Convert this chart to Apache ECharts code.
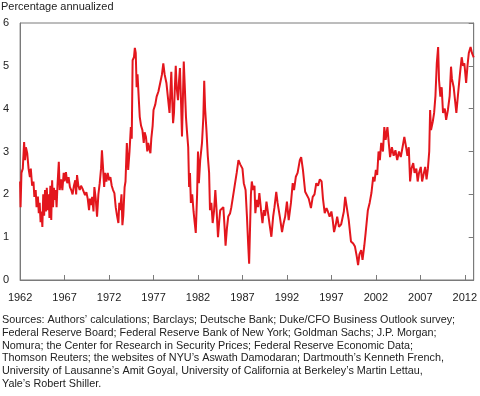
<!DOCTYPE html>
<html>
<head>
<meta charset="utf-8">
<script src="https://cdn.jsdelivr.net/npm/echarts@6/dist/echarts.min.js"></script>
<style>
  html, body { margin: 0; padding: 0; background: #fff; }
  #container { width: 480px; height: 396px; }
</style>
</head>
<body>
<div id="container"></div>
<script>
const startYear = 1962;
const endYear = 2013;
const yTicks = [0, 1, 2, 3, 4, 5, 6];

// [decimal year, percentage annualized]
const premium = [
  [1962.00, 2.3], [1962.05, 1.7], [1962.15, 2.5], [1962.30, 2.6], [1962.45, 3.22], [1962.55, 2.8],
  [1962.65, 3.1], [1962.80, 2.96], [1962.95, 2.6], [1963.10, 2.4], [1963.20, 2.6], [1963.35, 2.2],
  [1963.50, 2.3], [1963.60, 1.94], [1963.75, 2.1], [1963.85, 1.7], [1964.00, 1.95], [1964.10, 1.56],
  [1964.20, 1.8], [1964.30, 1.35], [1964.40, 1.6], [1964.50, 1.24], [1964.60, 2.0], [1964.70, 1.5],
  [1964.80, 2.1], [1964.90, 1.6], [1965.00, 2.15], [1965.10, 1.63], [1965.20, 2.0], [1965.30, 1.45],
  [1965.40, 2.2], [1965.50, 1.4], [1965.60, 2.33], [1965.70, 1.7], [1965.80, 2.15], [1965.90, 1.87],
  [1966.00, 2.1], [1966.10, 1.7], [1966.20, 2.2], [1966.35, 2.76], [1966.45, 2.1], [1966.60, 2.35],
  [1966.75, 2.1], [1966.90, 2.5], [1967.00, 2.3], [1967.15, 2.52], [1967.30, 2.26], [1967.45, 2.4],
  [1967.60, 2.17], [1967.75, 2.1], [1967.90, 2.0], [1968.05, 2.2], [1968.20, 2.33], [1968.30, 2.0],
  [1968.40, 2.45], [1968.55, 2.2], [1968.70, 2.1], [1968.85, 2.2], [1969.00, 2.14], [1969.15, 2.1],
  [1969.30, 1.98], [1969.45, 2.05], [1969.60, 1.9], [1969.75, 1.63], [1969.85, 1.9], [1970.00, 1.75],
  [1970.10, 1.94], [1970.25, 1.6], [1970.35, 2.17], [1970.50, 1.9], [1970.65, 1.48], [1970.80, 2.0],
  [1970.95, 2.26], [1971.10, 2.6], [1971.20, 3.03], [1971.30, 2.7], [1971.45, 2.17], [1971.55, 2.5],
  [1971.70, 2.3], [1971.85, 2.5], [1972.00, 2.33], [1972.15, 2.4], [1972.30, 2.2], [1972.45, 2.1],
  [1972.60, 2.03], [1972.75, 1.7], [1972.90, 1.5], [1973.05, 1.33], [1973.15, 1.8], [1973.25, 1.63],
  [1973.40, 2.0], [1973.50, 1.28], [1973.60, 1.5], [1973.75, 2.17], [1973.85, 2.3], [1974.00, 3.2],
  [1974.15, 2.57], [1974.30, 3.0], [1974.45, 3.57], [1974.55, 3.3], [1974.65, 5.13], [1974.80, 5.2],
  [1974.90, 5.42], [1975.00, 5.3], [1975.10, 4.5], [1975.20, 4.8], [1975.35, 4.2], [1975.45, 3.81],
  [1975.60, 3.6], [1975.75, 3.5], [1975.90, 3.2], [1976.00, 3.45], [1976.15, 3.34], [1976.30, 3.0],
  [1976.40, 3.2], [1976.50, 3.1], [1976.65, 2.96], [1976.75, 3.3], [1976.90, 3.6], [1977.00, 3.97],
  [1977.20, 4.1], [1977.35, 4.28], [1977.55, 4.4], [1977.75, 4.6], [1977.95, 4.8], [1978.10, 5.06],
  [1978.25, 4.8], [1978.45, 4.6], [1978.60, 4.3], [1978.80, 3.9], [1978.90, 4.4], [1979.00, 4.86],
  [1979.10, 4.2], [1979.20, 3.66], [1979.30, 3.9], [1979.40, 4.5], [1979.50, 5.0], [1979.60, 4.5],
  [1979.75, 4.2], [1979.85, 4.6], [1979.97, 4.95], [1980.10, 4.1], [1980.20, 3.35], [1980.30, 4.2],
  [1980.40, 5.1], [1980.50, 4.6], [1980.65, 3.8], [1980.75, 3.5], [1980.90, 3.1], [1981.00, 2.17],
  [1981.10, 2.5], [1981.20, 1.8], [1981.35, 2.0], [1981.50, 1.6], [1981.65, 1.3], [1981.75, 1.1],
  [1981.90, 2.0], [1982.00, 3.0], [1982.10, 2.26], [1982.25, 2.8], [1982.45, 3.2], [1982.60, 3.8],
  [1982.70, 4.65], [1982.80, 4.0], [1982.95, 3.5], [1983.10, 2.9], [1983.25, 2.5], [1983.35, 1.63],
  [1983.50, 1.8], [1983.65, 1.33], [1983.80, 1.6], [1983.95, 2.1], [1984.10, 1.6], [1984.25, 1.0],
  [1984.40, 1.4], [1984.50, 1.63], [1984.70, 1.6], [1984.85, 1.7], [1985.00, 1.2], [1985.10, 0.8],
  [1985.25, 1.2], [1985.40, 1.48], [1985.60, 1.55], [1985.75, 1.7], [1985.90, 1.9], [1986.10, 2.17],
  [1986.35, 2.5], [1986.55, 2.8], [1986.75, 2.7], [1986.90, 2.73], [1987.00, 2.6], [1987.15, 2.26],
  [1987.35, 2.1], [1987.50, 1.5], [1987.65, 0.8], [1987.75, 0.38], [1987.85, 1.2], [1987.95, 2.0],
  [1988.05, 2.3], [1988.20, 2.1], [1988.35, 2.2], [1988.45, 1.56], [1988.60, 1.87], [1988.75, 1.7],
  [1988.90, 2.03], [1989.10, 1.6], [1989.25, 1.33], [1989.40, 1.63], [1989.55, 1.5], [1989.70, 1.83],
  [1989.85, 1.6], [1990.05, 1.3], [1990.25, 1.01], [1990.45, 1.48], [1990.60, 1.7], [1990.80, 2.06],
  [1990.95, 1.8], [1991.20, 1.48], [1991.45, 1.12], [1991.60, 1.3], [1991.80, 1.48], [1992.00, 1.83],
  [1992.20, 1.4], [1992.45, 1.8], [1992.65, 2.26], [1992.80, 2.1], [1993.00, 2.41], [1993.20, 2.5],
  [1993.45, 2.8], [1993.60, 2.87], [1993.80, 2.57], [1994.05, 2.06], [1994.25, 2.1], [1994.45, 1.9],
  [1994.70, 1.68], [1994.90, 1.94], [1995.10, 2.0], [1995.30, 2.26], [1995.50, 2.2], [1995.70, 2.35],
  [1995.90, 2.3], [1996.05, 1.9], [1996.25, 1.56], [1996.45, 1.68], [1996.60, 1.6], [1996.80, 1.48],
  [1997.00, 1.6], [1997.15, 1.4], [1997.30, 1.12], [1997.50, 1.3], [1997.65, 1.48], [1997.85, 1.24],
  [1998.10, 1.3], [1998.40, 1.6], [1998.55, 1.94], [1998.75, 1.9], [1998.95, 1.4], [1999.20, 0.9],
  [1999.45, 0.85], [1999.65, 0.78], [1999.85, 0.55], [2000.00, 0.35], [2000.15, 0.6], [2000.35, 0.7],
  [2000.50, 0.47], [2000.70, 0.8], [2000.85, 1.1], [2001.10, 1.63], [2001.30, 1.8], [2001.50, 2.03],
  [2001.70, 2.41], [2001.85, 2.3], [2002.00, 2.57], [2002.15, 2.45], [2002.30, 3.0], [2002.45, 2.8],
  [2002.60, 3.2], [2002.80, 3.0], [2002.95, 3.57], [2003.10, 3.27], [2003.30, 3.57], [2003.45, 3.2],
  [2003.60, 2.87], [2003.80, 3.1], [2004.00, 2.9], [2004.20, 3.03], [2004.40, 2.8], [2004.60, 3.0],
  [2004.80, 2.87], [2005.00, 3.1], [2005.20, 3.34], [2005.40, 3.1], [2005.55, 2.9], [2005.70, 3.1],
  [2005.85, 2.3], [2006.00, 2.6], [2006.20, 2.73], [2006.35, 2.5], [2006.55, 2.6], [2006.70, 2.3],
  [2006.85, 2.5], [2007.05, 2.64], [2007.20, 2.3], [2007.40, 2.5], [2007.55, 2.64], [2007.70, 2.35],
  [2007.85, 2.6], [2008.00, 3.0], [2008.10, 3.97], [2008.20, 3.5], [2008.40, 3.7], [2008.55, 3.9],
  [2008.70, 4.3], [2008.85, 5.06], [2009.00, 5.44], [2009.10, 4.67], [2009.25, 4.28], [2009.40, 4.5],
  [2009.55, 3.9], [2009.75, 4.0], [2009.90, 3.74], [2010.10, 3.97], [2010.30, 4.3], [2010.45, 4.98],
  [2010.55, 4.7], [2010.75, 4.5], [2010.90, 4.2], [2011.05, 3.9], [2011.25, 4.36], [2011.45, 4.8],
  [2011.65, 5.2], [2011.80, 5.0], [2011.95, 5.06], [2012.15, 4.6], [2012.30, 5.0], [2012.45, 5.3],
  [2012.65, 5.44], [2012.80, 5.3], [2013.00, 5.2]
];

const yTitle = 'Percentage annualized';
const sourceLines = [
  'Sources: Authors\u2019 calculations; Barclays; Deutsche Bank; Duke/CFO Business Outlook survey;',
  'Federal Reserve Board; Federal Reserve Bank of New York; Goldman Sachs; J.P. Morgan;',
  'Nomura; the Center for Research in Security Prices; Federal Reserve Economic Data;',
  'Thomson Reuters; the websites of NYU\u2019s Aswath Damodaran; Dartmouth\u2019s Kenneth French,',
  'University of Lausanne\u2019s Amit Goyal, University of California at Berkeley\u2019s Martin Lettau,',
  'Yale\u2019s Robert Shiller.'
];

const font = '"Liberation Sans", Arial, sans-serif';
const axisGray = '#7a7a7a';

const chart = echarts.init(document.getElementById('container'));

const option = {
  animation: false,
  textStyle: { fontFamily: font },
  grid: {
    left: 18, right: 5, top: 23, bottom: 116,
    show: true, borderColor: axisGray, borderWidth: 1
  },
  xAxis: {
    type: 'value',
    min: 0,
    max: endYear - startYear,
    interval: 5,
    splitLine: { show: false },
    axisLine: { lineStyle: { color: axisGray } },
    axisTick: { inside: true, length: 5, lineStyle: { color: axisGray } },
    axisLabel: {
      margin: 12,
      color: '#222',
      fontSize: 11,
      fontFamily: font,
      formatter: v => String(startYear + v)
    }
  },
  yAxis: [
    {
      type: 'value',
      min: yTicks[0],
      max: yTicks[yTicks.length - 1],
      interval: 1,
      splitLine: { show: false },
      axisLine: { show: true, lineStyle: { color: axisGray } },
      axisTick: { show: false },
      axisLabel: { margin: 11, color: '#222', fontSize: 11, fontFamily: font, align: 'right' }
    },
    {
      type: 'value',
      position: 'right',
      min: yTicks[0],
      max: yTicks[yTicks.length - 1],
      interval: 1,
      splitLine: { show: false },
      axisLine: { show: true, lineStyle: { color: axisGray } },
      axisTick: { inside: true, length: 5, lineStyle: { color: axisGray } },
      axisLabel: { show: false }
    }
  ],
  graphic: [
    {
      type: 'text',
      left: 1,
      top: 1,
      style: { text: yTitle, fill: '#222', font: '11px ' + font }
    },
    {
      type: 'text',
      left: 2,
      top: 314,
      style: {
        text: sourceLines.join('\n'),
        fill: '#222',
        font: '10.8px ' + font,
        lineHeight: 12.7
      }
    }
  ],
  series: [
    {
      type: 'line',
      showSymbol: false,
      data: premium.map(d => [d[0] - startYear, d[1]]),
      lineStyle: { color: '#e3161d', width: 2 },
      itemStyle: { color: '#e3161d' }
    }
  ]
};

chart.setOption(option);
</script>
</body>
</html>
